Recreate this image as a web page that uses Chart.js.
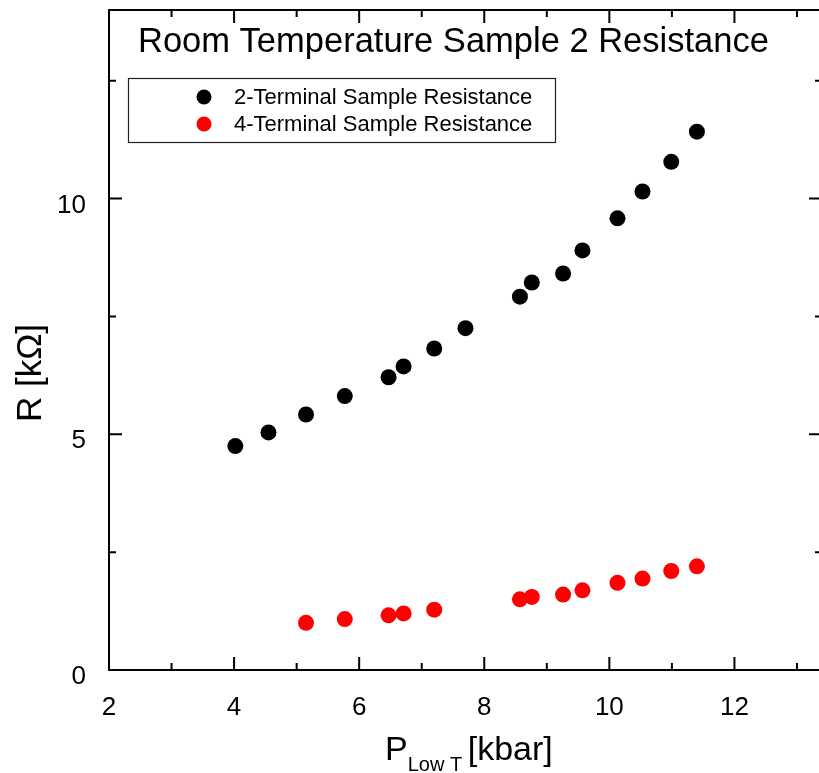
<!DOCTYPE html>
<html>
<head>
<meta charset="utf-8">
<script src="https://cdn.jsdelivr.net/npm/chart.js@4.4.0/dist/chart.umd.min.js"></script>
<style>
  html, body { margin: 0; padding: 0; background: #fff; overflow: hidden; }
  #wrap { width: 819px; height: 773px; overflow: hidden; position: relative; }
  #c { display: block; }
</style>
</head>
<body>
<div id="wrap"><canvas id="c" width="830" height="773"></canvas></div>
<script>
// ---- data ----
const chartTitle = 'Room Temperature Sample 2 Resistance';
const series2Label = '2-Terminal Sample Resistance';
const series4Label = '4-Terminal Sample Resistance';
const p2 = [4.02, 4.55, 5.15, 5.77, 6.47, 6.71, 7.20, 7.70, 8.57, 8.76, 9.26, 9.57, 10.13, 10.53, 10.99, 11.40];
const r2 = [4.75, 5.04, 5.42, 5.81, 6.21, 6.44, 6.82, 7.25, 7.92, 8.22, 8.41, 8.90, 9.58, 10.15, 10.78, 11.42];
const p4 = [5.15, 5.77, 6.47, 6.71, 7.20, 8.57, 8.76, 9.26, 9.57, 10.13, 10.53, 10.99, 11.40];
const r4 = [1.00, 1.08, 1.16, 1.20, 1.28, 1.50, 1.55, 1.60, 1.69, 1.85, 1.94, 2.10, 2.20];
const xMajor = [2, 4, 6, 8, 10, 12];
const xMinor = [3, 5, 7, 9, 11, 13];
const xTickLabels = ['2', '4', '6', '8', '10', '12'];
const yMajor = [0, 5, 10];
const yMinor = [2.5, 7.5, 12.5];
const yTickLabels = ['0', '5', '10'];

const FONT = '"Liberation Sans", Arial, Helvetica, sans-serif';

function pts(xs, ys) { return xs.map((x, i) => ({ x: x, y: ys[i] })); }

const framePlugin = {
  id: 'frame',
  afterDraw(chart) {
    const ctx = chart.ctx;
    const a = chart.chartArea;
    const xs = chart.scales.x, ys = chart.scales.y;
    ctx.save();
    ctx.strokeStyle = '#000';
    ctx.lineWidth = 2;
    ctx.beginPath();
    ctx.rect(a.left, a.top, a.right - a.left, a.bottom - a.top);
    ctx.stroke();
    const MAJ = 13, MIN = 7;
    ctx.beginPath();
    xMajor.concat(xMinor).forEach(v => {
      const L = xMajor.includes(v) ? MAJ : MIN;
      const px = xs.getPixelForValue(v);
      ctx.moveTo(px, a.bottom); ctx.lineTo(px, a.bottom - L);
      ctx.moveTo(px, a.top); ctx.lineTo(px, a.top + L);
    });
    yMajor.concat(yMinor).forEach(v => {
      const L = yMajor.includes(v) ? MAJ : MIN;
      const py = ys.getPixelForValue(v);
      ctx.moveTo(a.left, py); ctx.lineTo(a.left + L, py);
      ctx.moveTo(a.right, py); ctx.lineTo(a.right - L, py);
    });
    ctx.stroke();

    // title
    ctx.fillStyle = '#000';
    ctx.textBaseline = 'alphabetic';
    ctx.textAlign = 'left';
    ctx.font = '34.5px ' + FONT;
    ctx.fillText(chartTitle, 138, 52);

    // y axis title
    ctx.save();
    ctx.translate(41, 373);
    ctx.rotate(-Math.PI / 2);
    ctx.textAlign = 'center';
    ctx.font = '35px ' + FONT;
    ctx.fillText('R [k\u03A9]', 0, 0);
    ctx.restore();

    // x axis title with subscript
    ctx.textAlign = 'left';
    let x0 = 385;
    ctx.font = '34px ' + FONT;
    ctx.fillText('P', x0, 760);
    x0 += ctx.measureText('P').width;
    ctx.font = '20px ' + FONT;
    ctx.fillText('Low T', x0, 771);
    x0 += ctx.measureText('Low T ').width;
    ctx.font = '34px ' + FONT;
    ctx.fillText('[kbar]', x0, 760);

    // legend
    ctx.lineWidth = 1.2;
    ctx.strokeStyle = '#222';
    ctx.strokeRect(128.5, 78.5, 427, 64);
    ctx.font = '22px ' + FONT;
    ctx.textBaseline = 'middle';
    chart.data.datasets.forEach((ds, i) => {
      const cy = 97 + i * 27;
      ctx.beginPath();
      ctx.fillStyle = ds.backgroundColor;
      ctx.arc(204, cy, 7.5, 0, Math.PI * 2);
      ctx.fill();
      ctx.fillStyle = '#000';
      ctx.fillText(ds.label, 234, cy + 1);
    });
    ctx.restore();
  }
};

new Chart(document.getElementById('c'), {
  type: 'scatter',
  data: {
    datasets: [
      { label: series2Label, data: pts(p2, r2), backgroundColor: '#000000', borderColor: '#000000', borderWidth: 0, pointRadius: 8, pointHoverRadius: 8 },
      { label: series4Label, data: pts(p4, r4), backgroundColor: '#ff0000', borderColor: '#ff0000', borderWidth: 0, pointRadius: 8, pointHoverRadius: 8 }
    ]
  },
  options: {
    responsive: false,
    animation: false,
    events: [],
    layout: { padding: { top: 10, right: 1, left: 0, bottom: 0 } },
    plugins: { legend: { display: false }, title: { display: false }, tooltip: { enabled: false } },
    scales: {
      x: {
        type: 'linear', min: 2, max: 13.4,
        grid: { display: false }, border: { display: false },
        afterBuildTicks: (s) => { s.ticks = xMajor.map(v => ({ value: v })); },
        afterFit: (s) => { s.height = 103; s.paddingLeft = 0; s.paddingRight = 0; },
        ticks: {
          autoSkip: false, maxRotation: 0, padding: 14, color: '#000',
          font: { family: FONT, size: 26 },
          callback: (v) => { const i = xMajor.indexOf(v); return i >= 0 ? xTickLabels[i] : ''; }
        }
      },
      y: {
        type: 'linear', min: 0, max: 14,
        grid: { display: false }, border: { display: false },
        afterBuildTicks: (s) => { s.ticks = yMajor.map(v => ({ value: v })); },
        afterFit: (s) => { s.width = 109; s.paddingTop = 0; s.paddingBottom = 0; },
        ticks: {
          autoSkip: false, padding: 15, color: '#000',
          font: { family: FONT, size: 26, lineHeight: 0.54 },
          callback: (v) => { const i = yMajor.indexOf(v); return i >= 0 ? ['', yTickLabels[i]] : ''; }
        }
      }
    }
  },
  plugins: [framePlugin]
});
</script>
</body>
</html>
